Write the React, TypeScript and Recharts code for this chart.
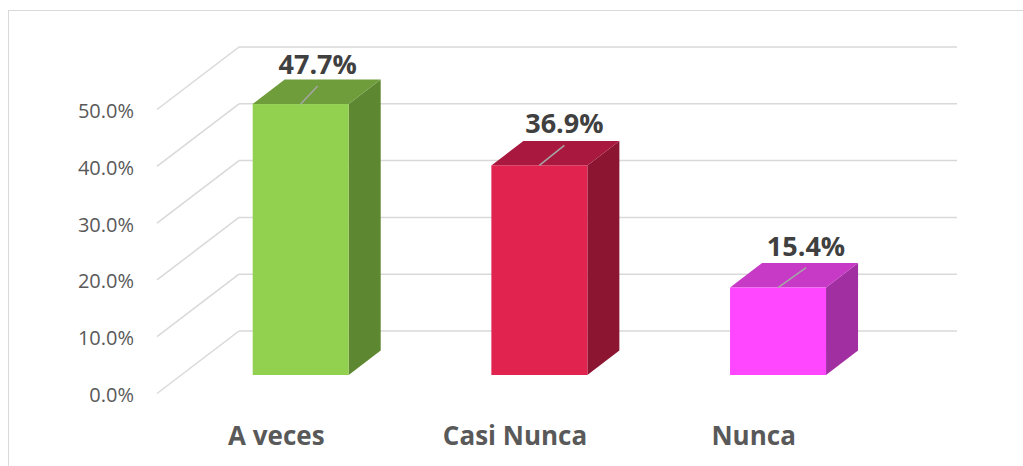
import { BarChart, Bar, XAxis, YAxis, CartesianGrid, LabelList } from 'recharts';

const categories = ['A veces', 'Casi Nunca', 'Nunca'];
const shares = [0.477, 0.369, 0.154];
const yTicks = [0, 0.1, 0.2, 0.3, 0.4, 0.5];

const frontColors = ['#92D050', '#E0234F', '#FF47FF'];
const topColors = ['#6F9D3C', '#A9193F', '#C73AC6'];
const sideColors = ['#5E8731', '#8C1531', '#A22FA1'];
// where the leader line of each data label ends, relative to the bar's front top centre
const leaderEnds = [[17, -18], [25, -20], [28, -20]];

const data = categories.map((name, i) => ({ name, value: shares[i] }));

const FONT = '"Open Sans", "Noto Sans", sans-serif';
const GRID = '#D9D9D9';
// back wall -> front plane (axis labels)
const WALL_DX = 82;
const WALL_DY = 62.5;
// back wall -> bar front face
const BAR_DX = -57.3;
const BAR_DY = 44;
// bar depth
const DEPTH_X = 32;
const DEPTH_Y = -24.5;

const pct = (v: number) => `${(v * 100).toFixed(1)}%`;

const GridLine = (props: any) => {
  const { x1, y1, x2 } = props;
  return (
    <g>
      <line x1={x1} y1={y1} x2={x2 + 2} y2={y1} stroke={GRID} strokeWidth={1.5} />
      <line x1={x1} y1={y1} x2={x1 - WALL_DX} y2={y1 + WALL_DY} stroke={GRID} strokeWidth={1.5} />
    </g>
  );
};

const YTick = (props: any) => {
  const { y, payload } = props;
  return (
    <text x={134} y={y + WALL_DY + 8.5} textAnchor="end" fill="#595959" fontSize={20} fontFamily={FONT}>
      {pct(payload.value)}
    </text>
  );
};

const XTick = (props: any) => {
  const { x, payload } = props;
  return (
    <text x={x - WALL_DX} y={445} textAnchor="middle" fill="#595959" fontSize={26} fontWeight="bold" fontFamily={FONT}>
      {payload.value}
    </text>
  );
};

const Box = (props: any) => {
  const { x, y, width, height, index } = props;
  const fx = x + BAR_DX;
  const fy = y + BAR_DY;
  const by = fy + height;
  const top = [
    [fx, fy],
    [fx + width, fy],
    [fx + width + DEPTH_X, fy + DEPTH_Y],
    [fx + DEPTH_X, fy + DEPTH_Y],
  ];
  const side = [
    [fx + width, fy],
    [fx + width + DEPTH_X, fy + DEPTH_Y],
    [fx + width + DEPTH_X, by + DEPTH_Y],
    [fx + width, by],
  ];
  return (
    <g>
      <polygon points={side.map((p) => p.join(',')).join(' ')} fill={sideColors[index]} />
      <polygon points={top.map((p) => p.join(',')).join(' ')} fill={topColors[index]} />
      <rect x={fx} y={fy} width={width} height={height} fill={frontColors[index]} />
    </g>
  );
};

const ValueLabel = (props: any) => {
  const vb = props.viewBox ?? props;
  const { x, y, width } = vb;
  const index = props.index ?? 0;
  const sx = x + BAR_DX + width / 2;
  const sy = y + BAR_DY;
  const [dx, dy] = leaderEnds[index];
  return (
    <g>
      <line x1={sx} y1={sy} x2={sx + dx} y2={sy + dy} stroke="#A6A6A6" strokeWidth={1.5} />
      <text x={sx + dx} y={sy + dy - 12} textAnchor="middle" fill="#404040" fontSize={27} fontWeight="bold" fontFamily={FONT}>
        {pct(props.value)}
      </text>
    </g>
  );
};

const App = () => {
  return (
    <div style={{ position: 'absolute', left: 0, top: 0, width: 1023, height: 466, background: '#fff', overflow: 'hidden' }}>
      <div
        style={{
          position: 'absolute',
          left: 8,
          top: 10,
          width: 1100,
          height: 500,
          borderTop: `1.5px solid ${GRID}`,
          borderLeft: `1.5px solid ${GRID}`,
        }}
      />
      <BarChart
        width={1023}
        height={466}
        data={data}
        margin={{ top: 47, right: 68, bottom: 75, left: 139 }}
        style={{ position: 'absolute', left: 0, top: 0 }}
      >
        <CartesianGrid horizontal={GridLine} vertical={false} />
        <XAxis dataKey="name" axisLine={false} tickLine={false} height={60} tick={XTick} interval={0} />
        <YAxis type="number" domain={[0, 0.5]} ticks={yTicks} axisLine={false} tickLine={false} width={100} tick={YTick} />
        <Bar dataKey="value" barSize={96} shape={Box} isAnimationActive={false}>
          <LabelList dataKey="value" content={ValueLabel} />
        </Bar>
      </BarChart>
    </div>
  );
};

export default App;
